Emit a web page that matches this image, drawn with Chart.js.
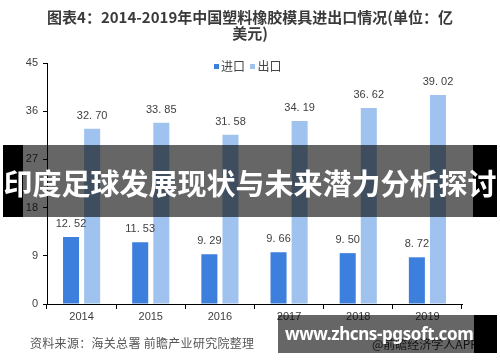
<!DOCTYPE html>
<html>
<head>
<meta charset="utf-8">
<script src="https://cdn.jsdelivr.net/npm/chart.js@4"></script>
<style>
  html, body { margin: 0; padding: 0; background: #fff; }
  #wrap { position: relative; width: 500px; height: 362px; overflow: hidden; font-family: "Noto Sans CJK SC", "Noto Sans", sans-serif; }
  #chart { position: absolute; left: 0; top: 0; }
  .title { position: absolute; left: 0; top: 9px; width: 500px; text-align: center; font-weight: bold; font-size: 15px; line-height: 16px; color: #3a3a3a; }
  .legend { position: absolute; top: 57px; left: 214px; font-size: 12px; color: #444; white-space: nowrap; }
  .legend i { display: inline-block; width: 5px; height: 5px; margin-right: 2px; vertical-align: middle; position: relative; top: -1px; }
  .source { position: absolute; left: 30px; top: 334px; font-size: 12px; color: #555; white-space: nowrap; letter-spacing: 0.3px; }
  .shade { position: absolute; background: rgba(0,0,0,0.6); }
  .black { position: absolute; background: #000; }
  .banner-text { position: absolute; left: 0; top: 162px; width: 500px; text-align: center; color: #fff; font-weight: bold; font-size: 29px; line-height: 40px; white-space: nowrap; }
  .site { position: absolute; left: 285px; top: 321px; color: #fff; font-family: "Noto Sans", sans-serif; font-weight: bold; font-size: 17px; line-height: 26px; white-space: nowrap; letter-spacing: -0.4px; }
  .app { position: absolute; left: 372px; top: 335px; color: #333; font-size: 12px; white-space: nowrap; }
</style>
</head>
<body>
<div id="wrap">
  <canvas id="chart" width="500" height="362"></canvas>
  <div class="title">图表4：2014-2019年中国塑料橡胶模具进出口情况(单位：亿<br>美元)</div>
  <div class="legend"><i style="background:#3d7fdd"></i>进口 &nbsp;<i style="background:#9fc3ee"></i>出口</div>
  <div class="source">资料来源：海关总署 前瞻产业研究院整理</div>

  <div class="black" style="left:3px;top:145px;width:20px;height:72px"></div>
  <div class="shade" style="left:23px;top:145px;width:450px;height:72px"></div>
  <div class="black" style="left:473px;top:145px;width:24px;height:72px"></div>
  <div class="banner-text">印度足球发展现状与未来潜力分析探讨</div>

  <div class="app">@前瞻经济学人APP</div>
  <div class="shade" style="left:278px;top:315px;width:196px;height:38px"></div>
  <div class="black" style="left:474px;top:315px;width:23px;height:38px"></div>
  <div class="site">www.zhcns-pgsoft.com</div>
</div>
<script>
// 数据
const years = ['2014', '2015', '2016', '2017', '2018', '2019'];
const importVals = [12.52, 11.53, 9.29, 9.66, 9.50, 8.72];
const exportVals = [32.70, 33.85, 31.58, 34.19, 36.62, 39.02];
const yTicks = [0, 9, 18, 27, 36, 45];

// 柱顶标签
const barLabels = {
  id: 'barLabels',
  afterDatasetsDraw(chart) {
    const ctx = chart.ctx;
    ctx.save();
    ctx.font = '11px "Liberation Sans", sans-serif';
    ctx.fillStyle = '#404040';
    ctx.textAlign = 'center';
    ctx.textBaseline = 'middle';
    chart.data.datasets.forEach((ds, i) => {
      chart.getDatasetMeta(i).data.forEach((bar, j) => {
        const txt = ds.data[j].toFixed(2).replace('.', '. ');
        ctx.fillText(txt, bar.x, bar.y - 13);
      });
    });
    ctx.restore();
  }
};

new Chart(document.getElementById('chart'), {
  type: 'bar',
  data: {
    labels: years,
    datasets: [
      { label: '进口', data: importVals, backgroundColor: '#3d7fdd' },
      { label: '出口', data: exportVals, backgroundColor: '#9fc3ee' }
    ]
  },
  options: {
    responsive: false,
    animation: false,
    layout: { padding: { top: 63, right: 38, bottom: 0, left: 0 } },
    datasets: { bar: { categoryPercentage: 0.61, barPercentage: 0.76 } },
    plugins: { legend: { display: false }, tooltip: { enabled: false } },
    scales: {
      x: {
        grid: { display: true, drawOnChartArea: false, tickLength: 5, color: '#000', offset: true },
        border: { color: '#000', width: 1 },
        ticks: { color: '#404040', font: { size: 11, family: 'Liberation Sans' }, padding: 1 },
        afterFit: s => { s.height = 58; }
      },
      y: {
        min: 0, max: 45,
        afterBuildTicks: s => { s.ticks = yTicks.map(v => ({ value: v })); },
        grid: { display: true, drawOnChartArea: false, tickLength: 4, color: '#000' },
        border: { color: '#000', width: 1 },
        ticks: { color: '#404040', font: { size: 11, family: 'Liberation Sans' }, padding: 5 },
        afterFit: s => { s.width = 47; }
      }
    }
  },
  plugins: [barLabels]
});
</script>
</body>
</html>
